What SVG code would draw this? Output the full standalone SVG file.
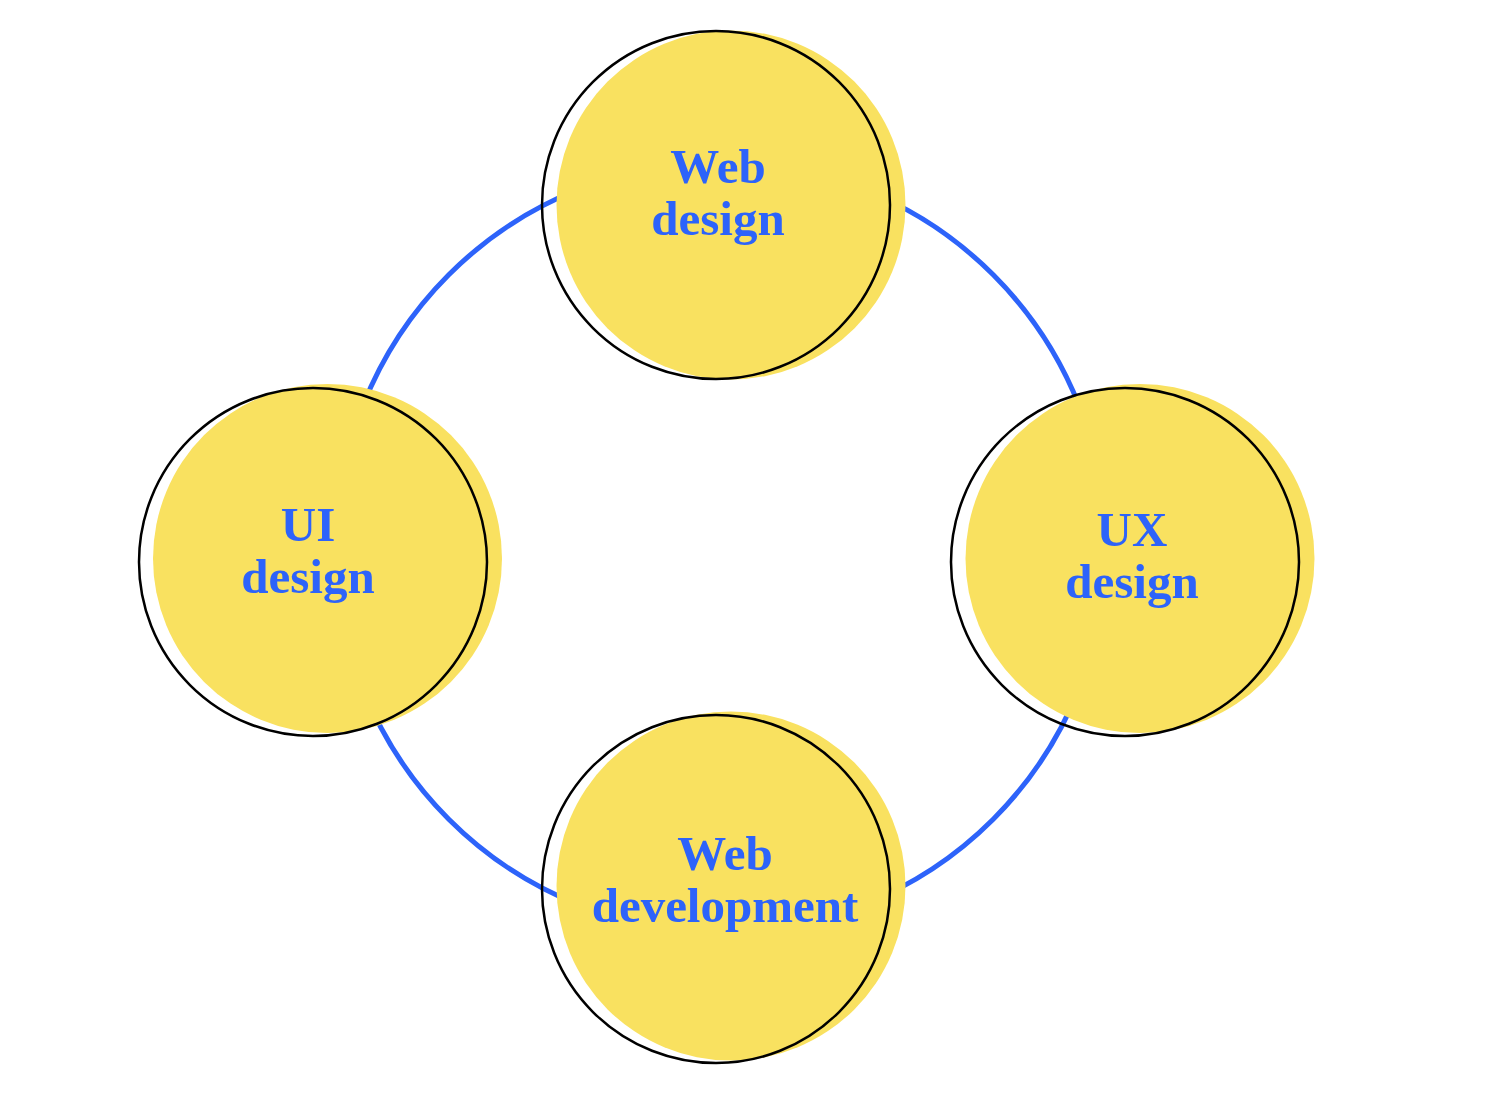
<svg xmlns="http://www.w3.org/2000/svg" width="1500" height="1100" viewBox="0 0 1500 1100">
<style>
.bg{fill:#F9E160;}
.ol{fill:none;stroke:#000;stroke-width:2.5;}
.ring{fill:none;stroke:#2D63FA;stroke-width:5;}
.lbl{font-family:"Liberation Serif","Times New Roman",serif;font-weight:bold;font-size:49px;fill:#2D63FA;text-anchor:middle;}
</style>
<rect width="1500" height="1100" fill="#fff"/>
<g id="connectors">
<circle class="ring" cx="721" cy="547" r="385"/>
</g>
<g id="node-web-design">
<circle class="bg" cx="731" cy="205" r="174.5"/>
<circle class="ol" cx="716" cy="205" r="174"/>
<text class="lbl" x="718" y="183">Web</text>
<text class="lbl" x="718" y="235">design</text>
</g>
<g id="node-ui-design">
<circle class="bg" cx="327.5" cy="558.5" r="174.5"/>
<circle class="ol" cx="313" cy="562" r="174"/>
<text class="lbl" x="308" y="541">UI</text>
<text class="lbl" x="308" y="593">design</text>
</g>
<g id="node-ux-design">
<circle class="bg" cx="1140" cy="558.5" r="174.5"/>
<circle class="ol" cx="1125" cy="562" r="174"/>
<text class="lbl" x="1132" y="546">UX</text>
<text class="lbl" x="1132" y="598">design</text>
</g>
<g id="node-web-development">
<circle class="bg" cx="731" cy="886" r="174.5"/>
<circle class="ol" cx="716" cy="889" r="174"/>
<text class="lbl" x="725" y="870">Web</text>
<text class="lbl" x="725" y="922">development</text>
</g>
</svg>
